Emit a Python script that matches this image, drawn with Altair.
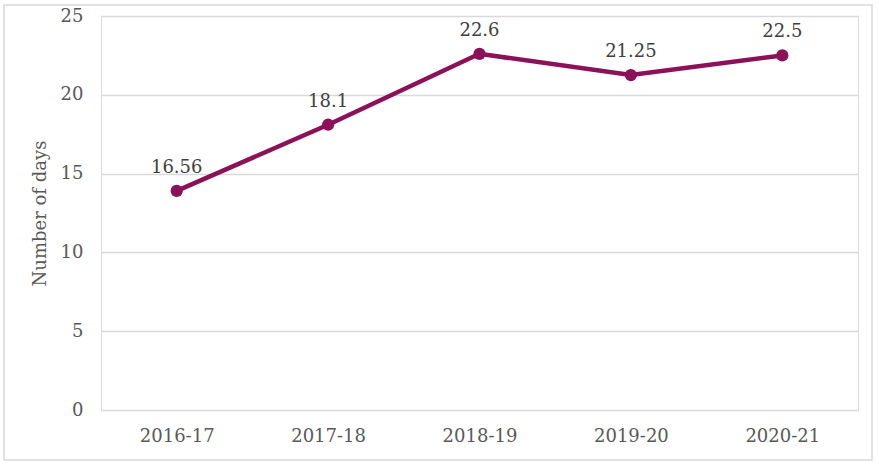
import altair as alt
import pandas as pd

years = ["2016-17", "2017-18", "2018-19", "2019-20", "2020-21"]
values = [13.9, 18.1, 22.6, 21.25, 22.5]
label_text = ["16.56", "18.1", "22.6", "21.25", "22.5"]

df = pd.DataFrame({"year": years, "value": values, "label": label_text})

FONT = "DejaVu Serif"
LINE = "#8B1158"

x = alt.X("year:N", sort=years, title=None,
          scale=alt.Scale(paddingInner=1, paddingOuter=0.5),
          axis=alt.Axis(labelAngle=0, labelFont=FONT, labelFontSize=18,
                        labelColor="#595959", labelPadding=17, ticks=False,
                        domain=False, grid=False))
y = alt.Y("value:Q", title="Number of days",
          scale=alt.Scale(domain=[0, 25]),
          axis=alt.Axis(values=[0, 5, 10, 15, 20, 25], labelFont=FONT,
                        labelFontSize=18, labelColor="#595959", labelPadding=18,
                        ticks=False, domain=False, gridColor="#D9D9D9",
                        gridWidth=1.5, titleFont=FONT, titleFontSize=18,
                        titleFontWeight="normal", titleColor="#595959",
                        titlePadding=11))

base = alt.Chart(df)

border = base.mark_rect(fill=None, stroke="#D9D9D9", strokeWidth=1.5, clip=False).encode(
    x=alt.value(-97), x2=alt.value(771), y=alt.value(-11), y2=alt.value(444)
).transform_filter("datum.year == '2016-17'")

line = base.mark_line(color=LINE, strokeWidth=4.5).encode(x=x, y=y)
pts = base.mark_circle(color=LINE, size=150, opacity=1).encode(x=x, y=y)
labels = base.mark_text(font=FONT, fontSize=18, color="#404040", dy=-23,
                        baseline="middle").encode(x=x, y=y, text="label:N")

chart = alt.layer(border, line, pts, labels).properties(
    width=757, height=394,
    autosize=alt.AutoSizeParams(type="none"),
    padding={"left": 101, "top": 16, "right": 20, "bottom": 56},
).configure_view(stroke=None).configure(background="white")

chart.save("out.html", embed_options={"renderer": "svg", "actions": False})
